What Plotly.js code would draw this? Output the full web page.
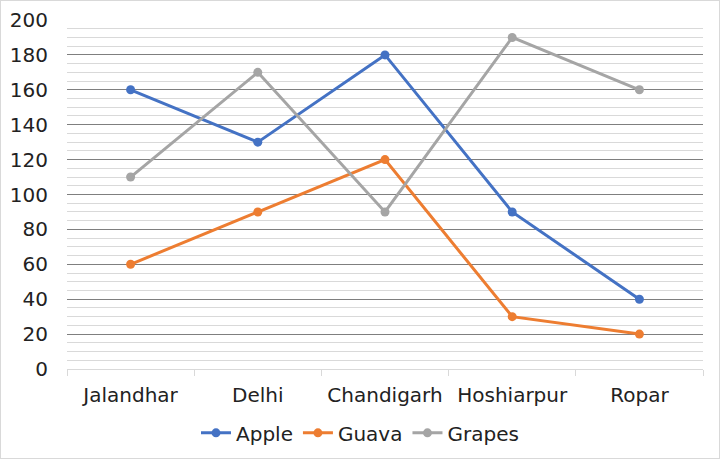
<!DOCTYPE html>
<html><head><meta charset="utf-8">
<script src="https://cdn.plot.ly/plotly-3.0.1.min.js"></script>
<style>
html,body{margin:0;padding:0;background:#fff;}
#wrap{width:720px;height:459px;box-sizing:border-box;border:1px solid #d9d9d9;}
#chart{width:718px;height:457px;}
</style></head><body>
<div id="wrap"><div id="chart"></div></div>
<script>
const cities = ["Jalandhar", "Delhi", "Chandigarh", "Hoshiarpur", "Ropar"];
const apple = [160, 130, 180, 90, 40];
const guava = [60, 90, 120, 30, 20];
const grapes = [110, 170, 90, 190, 160];

function tr(name, y, color){
  return {x: cities, y: y, name: name, type: "scatter", mode: "lines+markers",
    line: {color: color, width: 3}, marker: {color: color, size: 9}};
}
const data = [tr("Apple", apple, "#4472c4"), tr("Guava", guava, "#ed7d31"), tr("Grapes", grapes, "#a5a5a5")];
const F = "DejaVu Sans";
const layout = {
  width: 718, height: 457,
  margin: {l: 66, r: 16, t: 19, b: 89, autoexpand: false},
  paper_bgcolor: "#fff", plot_bgcolor: "#fff",
  font: {family: F, size: 20, color: "#222"},
  xaxis: {type: "category", range: [-0.5, 4.5], tickson: "boundaries", ticks: "outside", ticklen: 6, tickcolor: "#d9d9d9",
    showline: true, linecolor: "#d9d9d9", linewidth: 1, showgrid: false, zeroline: false,
    ticklabelstandoff: 8, tickfont: {family: F, size: 20, color: "#222"}},
  yaxis: {range: [0, 200], dtick: 20, showgrid: true, gridcolor: "#7f7f7f", gridwidth: 1,
    zeroline: false, showline: false, ticks: "", ticklabelstandoff: 18,
    minor: {dtick: 5, showgrid: true, gridcolor: "#d9d9d9", gridwidth: 1},
    tickfont: {family: F, size: 20, color: "#222"}},
  showlegend: true,
  legend: {orientation: "h", xref: "container", yref: "container", x: 0.5, xanchor: "center",
    y: 0.055, yanchor: "middle",
    font: {family: F, size: 20, color: "#222"}, itemwidth: 30, tracegroupgap: 0}
};
Plotly.newPlot("chart", data, layout, {displayModeBar: false, staticPlot: true});
</script></body></html>
